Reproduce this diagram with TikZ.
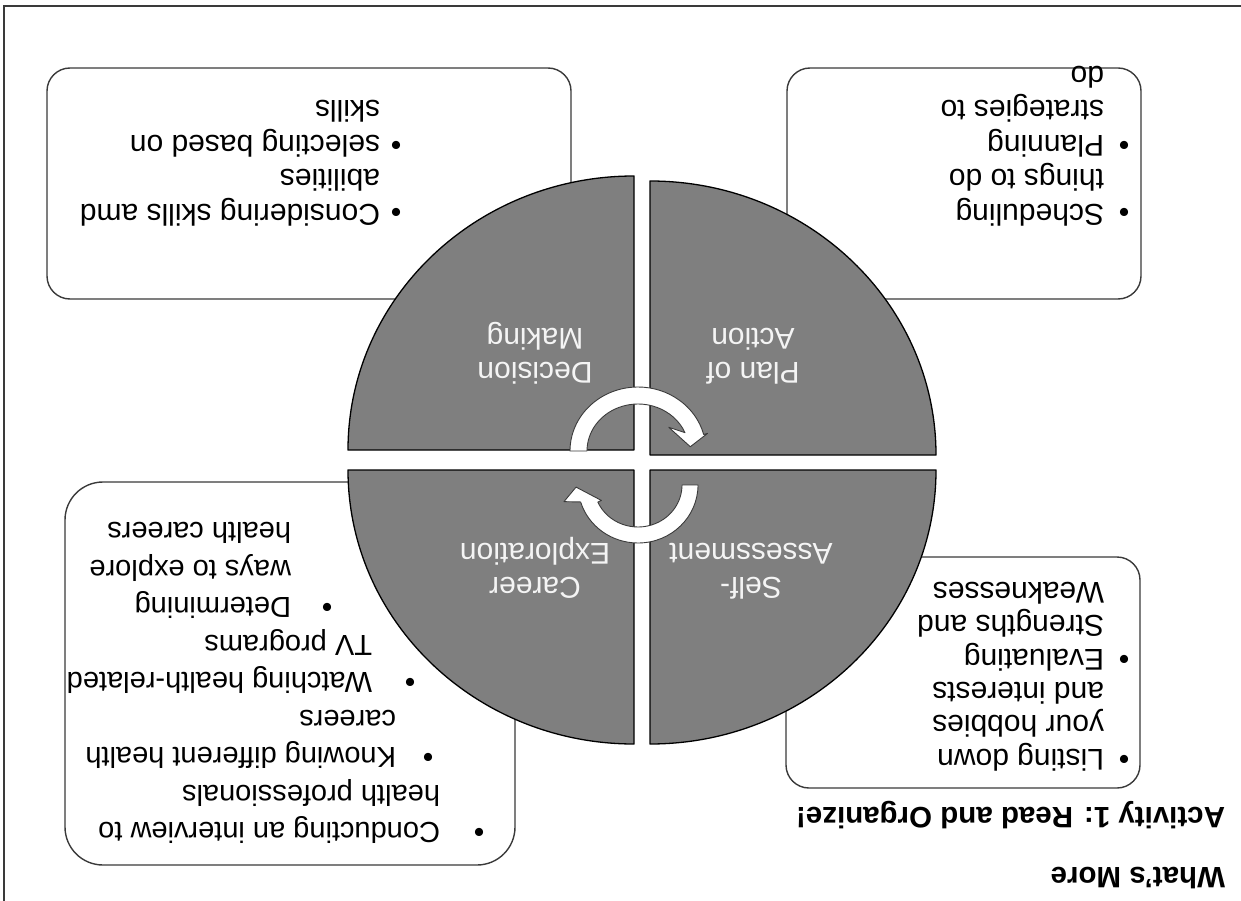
\documentclass[tikz,border=0pt]{standalone}
\usepackage{fontspec}
\setmainfont{Liberation Sans}
\usetikzlibrary{calc}
\definecolor{segfill}{HTML}{7F7F7F}
\definecolor{edge}{HTML}{3A3A3A}
\definecolor{labeltext}{HTML}{F4F4F4}
\begin{document}
\begin{tikzpicture}[x=1pt, y=-1pt,
  every node/.style={inner sep=0pt, outer sep=0pt},
  frameline/.style={draw=edge, line width=1.4pt},
  card/.style={draw=edge, line width=1.4pt, fill=white},
  segment/.style={draw=black, line width=1.3pt, fill=segfill, line join=round},
  cyclearrow/.style={draw=edge, line width=0.9pt, fill=white, line join=round},
  lbl/.style={rotate=180, anchor=base, text=labeltext, font=\fontsize{30}{34}\selectfont},
  txt/.style={rotate=180, anchor=base west, font=\fontsize{30}{34}\selectfont},
  txts/.style={rotate=180, anchor=base west, font=\fontsize{29}{34}\selectfont},
  bul/.style={rotate=180, anchor=base, font=\fontsize{30}{34}\selectfont},
  heading/.style={rotate=180, anchor=base west, font=\fontsize{29.5}{34}\selectfont\bfseries},
]
\useasboundingbox (0,0) rectangle (1241,901);

% page frame
\draw[frameline] (4,901) -- (4,6) -- (1241,6);

% text cards behind the cycle
\draw[card, rounded corners=23pt] (47,68) rectangle (571,299);
\draw[card, rounded corners=23pt] (787,68) rectangle (1141,299);
\draw[card, rounded corners=38pt] (65,482) rectangle (515,865);
\draw[card, rounded corners=23pt] (786,557) rectangle (1140,788);

% four quarter segments
\draw[segment] (634,450) -- ++(-286,0) arc[start angle=180, end angle=270, x radius=286, y radius=274] -- cycle;
\draw[segment] (650,455) -- ++(0,-274) arc[start angle=270, end angle=360, x radius=286, y radius=274] -- cycle;
\draw[segment] (650,470) -- ++(286,0) arc[start angle=0, end angle=90, x radius=286, y radius=274] -- cycle;
\draw[segment] (634,470) -- ++(0,274) arc[start angle=90, end angle=180, x radius=286, y radius=274] -- cycle;

% circular arrows in the middle
\coordinate (c1) at (638,451);
\coordinate (c2) at (638,485);
\draw[cyclearrow] ($(c1)+(180:68 and 64)$) arc[start angle=180, end angle=345, x radius=68, y radius=64]
  -- ($(c1)+(345:72 and 68)$) -- ($(c1)+(355:52.5 and 49)$) -- ($(c1)+(320:40 and 37)$)
  -- ($(c1)+(337:51 and 47)$) arc[start angle=337, end angle=180, x radius=51, y radius=47] -- cycle;
\draw[cyclearrow] ($(c2)+(0:60 and 58)$) arc[start angle=0, end angle=163, x radius=60, y radius=58]
  -- ($(c2)+(167:76 and 74)$) -- ($(c2)+(178:62 and 60)$) -- ($(c2)+(156:40 and 38)$)
  -- ($(c2)+(156:44 and 42)$) arc[start angle=156, end angle=0, x radius=44, y radius=42] -- cycle;

% segment labels
\node[lbl] (dmA) at (535,362) {Decision};
\node[lbl] (dmB) at (535,328) {Making};
\node[lbl] (paA) at (753,362) {Plan of};
\node[lbl] (paB) at (753,328) {Action};
\node[lbl] (ceA) at (535,577) {Career};
\node[lbl] (ceB) at (535,543) {Exploration};
\node[lbl] (saA) at (751,577) {Self-};
\node[lbl] (saB) at (751,543) {Assessment};

% decision making card
\node[bul] (dmb1) at (396,202.5) {•};
\node[txt] (dm1) at (380,204.3) {Considering skills amd};
\node[txt] (dm2) at (380,169.8) {abilities};
\node[bul] (dmb2) at (396,135.5) {•};
\node[txt] (dm3) at (380,135.3) {selecting based on};
\node[txt] (dm4) at (380,100.8) {skills};

% plan of action card
\node[bul] (pab1) at (1124,202.5) {•};
\node[txt] (pa1) at (1104,204.3) {Scheduling};
\node[txt] (pa2) at (1104,169.8) {things to do};
\node[bul] (pab2) at (1124,135.5) {•};
\node[txt] (pa3) at (1104,135.3) {Planning};
\node[txt] (pa4) at (1104,100.8) {strategies to};
\node[txt] (pa5) at (1104,66.3) {do};

% self-assessment card
\node[bul] (sab1) at (1124,749.5) {•};
\node[txt] (sa1) at (1104,749.3) {Listing down};
\node[txt] (sa2) at (1104,715.9) {your hobbies};
\node[txt] (sa3) at (1104,682.5) {and interests};
\node[bul] (sab2) at (1124,649.3) {•};
\node[txt] (sa4) at (1104,649.1) {Evaluating};
\node[txt] (sa5) at (1104,615.7) {Strengths and};
\node[txt] (sa6) at (1104,582.3) {Weaknesses};

% career exploration card
\node[bul] (ceb1) at (479,822.6) {•};
\node[txts] (ce1) at (440,822.6) {Conducting an interview to};
\node[txts] (ce2) at (440,785.1) {health professionals};
\node[bul] (ceb2) at (428,747.6) {•};
\node[txts] (ce3) at (396,747.6) {Knowing different health};
\node[txts] (ce4) at (396,710.1) {careers};
\node[bul] (ceb3) at (410,672.6) {•};
\node[txts] (ce5) at (372,672.6) {Watching health-related};
\node[txts] (ce6) at (372,635.1) {TV programs};
\node[bul] (ceb4) at (327,597.6) {•};
\node[txts] (ce7) at (291,597.6) {Determining};
\node[txts] (ce8) at (291,560.1) {ways to explore};
\node[txts] (ce9) at (291,522.6) {health careers};

% headings
\node[heading] (act) at (1225,807) {Activity 1: Read and Organize!};
\node[heading] (more) at (1225,867) {What's More};
\end{tikzpicture}
\end{document}
